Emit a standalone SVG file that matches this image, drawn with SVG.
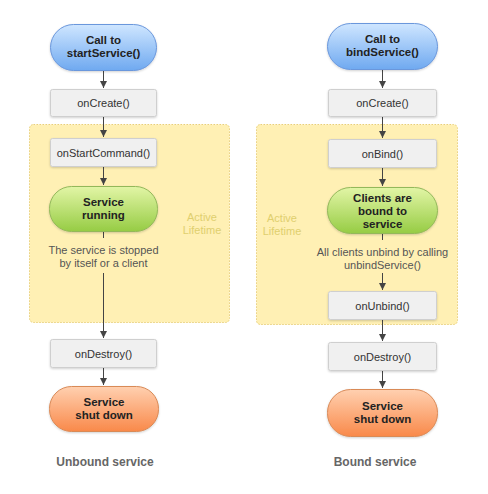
<svg xmlns="http://www.w3.org/2000/svg" width="488" height="494" viewBox="0 0 488 494">
<defs>
<linearGradient id="gBlue" x1="0" y1="0" x2="0" y2="1"><stop offset="0" stop-color="#cfe6ff"/><stop offset="1" stop-color="#6fa9f0"/></linearGradient>
<linearGradient id="gGreen" x1="0" y1="0" x2="0" y2="1"><stop offset="0" stop-color="#e2f5a6"/><stop offset="1" stop-color="#96cc44"/></linearGradient>
<linearGradient id="gOrange" x1="0" y1="0" x2="0" y2="1"><stop offset="0" stop-color="#ffd0b0"/><stop offset="1" stop-color="#f9894a"/></linearGradient>
<filter id="sh" x="-10%" y="-10%" width="120%" height="130%"><feDropShadow dx="0" dy="1" stdDeviation="1" flood-color="#000" flood-opacity="0.18"/></filter>
<marker id="arr" viewBox="0 0 10 10" refX="10" refY="5" markerWidth="7" markerHeight="7" markerUnits="userSpaceOnUse" orient="auto"><path d="M0,0 L10,5 L0,10 z" fill="#444"/></marker>
</defs>
<style>
.region{fill:#fff0b4;stroke:#e8cf7a;stroke-width:1;stroke-dasharray:1.5 1.5}
.box{fill:#f0f0f0;stroke:#cfcfcf;stroke-width:1;filter:url(#sh)}
.blue{fill:url(#gBlue);stroke:#6a97dc;stroke-width:1;filter:url(#sh)}
.green{fill:url(#gGreen);stroke:#93b85a;stroke-width:1;filter:url(#sh)}
.orange{fill:url(#gOrange);stroke:#d98a57;stroke-width:1;filter:url(#sh)}
text{font-family:"Liberation Sans",Arial,sans-serif;text-anchor:middle}
.t{font-size:11px;fill:#333}
.b{font-size:11.5px;font-weight:bold;fill:#222}
.d{font-size:11px;fill:#555}
.al{font-size:11px;fill:#e0cf6e}
.cap{font-size:12px;font-weight:bold;fill:#666}
.ln{stroke:#444;stroke-width:1;fill:none}
</style>
<rect width="488" height="494" fill="#ffffff"/>
<g id="regions">
<rect class="region" x="29.5" y="124.5" width="200" height="198" rx="4"/>
<rect class="region" x="256.5" y="124.5" width="201" height="200" rx="4"/>
<text class="al" x="202" y="221">Active</text>
<text class="al" x="202" y="234">Lifetime</text>
<text class="al" x="282" y="222">Active</text>
<text class="al" x="282" y="235">Lifetime</text>
</g>
<g id="connectors">
<line class="ln" x1="103.5" y1="71" x2="103.5" y2="88" marker-end="url(#arr)"/>
<line class="ln" x1="103.5" y1="117" x2="103.5" y2="137" marker-end="url(#arr)"/>
<line class="ln" x1="103.5" y1="167" x2="103.5" y2="185" marker-end="url(#arr)"/>
<line class="ln" x1="103.5" y1="232" x2="103.5" y2="238"/>
<line class="ln" x1="103.5" y1="273" x2="103.5" y2="338" marker-end="url(#arr)"/>
<line class="ln" x1="103.5" y1="368" x2="103.5" y2="385" marker-end="url(#arr)"/>
<line class="ln" x1="382.5" y1="70" x2="382.5" y2="88" marker-end="url(#arr)"/>
<line class="ln" x1="382.5" y1="117" x2="382.5" y2="138" marker-end="url(#arr)"/>
<line class="ln" x1="382.5" y1="168" x2="382.5" y2="186" marker-end="url(#arr)"/>
<line class="ln" x1="382.5" y1="234" x2="382.5" y2="240"/>
<line class="ln" x1="382.5" y1="273" x2="382.5" y2="290" marker-end="url(#arr)"/>
<line class="ln" x1="382.5" y1="319" x2="382.5" y2="341" marker-end="url(#arr)"/>
<line class="ln" x1="382.5" y1="371" x2="382.5" y2="388" marker-end="url(#arr)"/>
</g>
<g id="startService"><rect class="blue" x="50.5" y="24.5" width="106" height="46" rx="23"/><text class="b" x="103.5" y="44">Call to</text><text class="b" x="103.5" y="57">startService()</text></g>
<g id="onCreate1"><rect class="box" x="50.5" y="89.5" width="106" height="27" rx="2"/><text class="t" x="103.5" y="107">onCreate()</text></g>
<g id="onStartCommand"><rect class="box" x="50.5" y="138.5" width="106" height="28" rx="2"/><text class="t" x="103.5" y="156.5">onStartCommand()</text></g>
<g id="serviceRunning"><rect class="green" x="49.5" y="186.5" width="108" height="45" rx="22"/><text class="b" x="103.5" y="206">Service</text><text class="b" x="103.5" y="219">running</text></g>
<g id="stoppedNote"><text class="d" x="103.5" y="254">The service is stopped</text><text class="d" x="103.5" y="267">by itself or a client</text></g>
<g id="onDestroy1"><rect class="box" x="50.5" y="339.5" width="106" height="28" rx="2"/><text class="t" x="103.5" y="357.5">onDestroy()</text></g>
<g id="shutDown1"><rect class="orange" x="49.5" y="386.5" width="109" height="45" rx="22"/><text class="b" x="104" y="406">Service</text><text class="b" x="104" y="419">shut down</text></g>
<g id="bindService"><rect class="blue" x="327.5" y="23.5" width="110" height="46" rx="23"/><text class="b" x="382.5" y="43">Call to</text><text class="b" x="382.5" y="56">bindService()</text></g>
<g id="onCreate2"><rect class="box" x="328.5" y="89.5" width="108" height="27" rx="2"/><text class="t" x="382.5" y="107">onCreate()</text></g>
<g id="onBind"><rect class="box" x="328.5" y="139.5" width="108" height="28" rx="2"/><text class="t" x="382.5" y="157.5">onBind()</text></g>
<g id="clientsBound"><rect class="green" x="327.5" y="187.5" width="110" height="46" rx="23"/><text class="b" x="382.5" y="202">Clients are</text><text class="b" x="382.5" y="215">bound to</text><text class="b" x="382.5" y="228">service</text></g>
<g id="unbindNote"><text class="d" x="382.5" y="256">All clients unbind by calling</text><text class="d" x="382.5" y="269">unbindService()</text></g>
<g id="onUnbind"><rect class="box" x="328.5" y="291.5" width="108" height="28" rx="2"/><text class="t" x="382.5" y="309.5">onUnbind()</text></g>
<g id="onDestroy2"><rect class="box" x="328.5" y="342.5" width="108" height="28" rx="2"/><text class="t" x="382.5" y="360.5">onDestroy()</text></g>
<g id="shutDown2"><rect class="orange" x="327.5" y="389.5" width="110" height="47" rx="23"/><text class="b" x="382.5" y="410">Service</text><text class="b" x="382.5" y="423">shut down</text></g>
<g id="captions"><text class="cap" x="105" y="466">Unbound service</text><text class="cap" x="375" y="466">Bound service</text></g>
</svg>
